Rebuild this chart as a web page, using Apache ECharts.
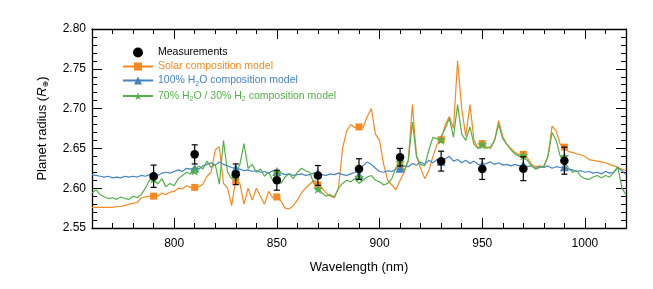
<!DOCTYPE html>
<html><head><meta charset="utf-8">
<script src="https://cdn.jsdelivr.net/npm/echarts@6/dist/echarts.min.js"></script>
<style>html,body{margin:0;padding:0;background:#fff}#c{width:653px;height:289px}</style>
</head><body><div id="c"></div>
<script>
// ---- data ----
const wlStart = 760, wlStep = 2;
const solarModel = [
2.576,2.576,2.576,2.576,2.576,2.576,2.577,2.577,2.578,2.580,
2.581,2.582,2.588,2.589,2.590,2.591,2.590,2.594,2.592,2.595,
2.596,2.600,2.599,2.603,2.601,2.600,2.602,2.605,2.615,2.620,
2.648,2.652,2.606,2.600,2.578,2.612,2.606,2.580,2.600,2.585,
2.600,2.590,2.580,2.596,2.588,2.590,2.584,2.575,2.574,2.578,
2.585,2.594,2.600,2.605,2.610,2.606,2.600,2.594,2.590,2.588,
2.600,2.650,2.672,2.680,2.676,2.678,2.676,2.690,2.700,2.668,
2.660,2.630,2.610,2.604,2.598,2.610,2.620,2.635,2.705,2.640,
2.625,2.612,2.622,2.640,2.655,2.660,2.680,2.690,2.675,2.760,
2.700,2.665,2.705,2.660,2.650,2.655,2.652,2.650,2.660,2.685,
2.665,2.655,2.650,2.645,2.642,2.641,2.638,2.630,2.627,2.628,
2.626,2.640,2.678,2.672,2.655,2.650,2.646,2.645,2.643,2.642,
2.640,2.636,2.635,2.634,2.633,2.632,2.630,2.628,2.626,2.624,
2.622];
const waterModel = [
2.617,2.616,2.615,2.614,2.615,2.613,2.614,2.613,2.615,2.614,
2.615,2.614,2.616,2.615,2.617,2.617,2.616,2.619,2.620,2.619,
2.621,2.623,2.621,2.625,2.624,2.626,2.624,2.628,2.630,2.632,
2.629,2.633,2.630,2.628,2.626,2.625,2.624,2.622,2.623,2.621,
2.622,2.620,2.621,2.619,2.622,2.620,2.619,2.617,2.618,2.616,
2.617,2.618,2.616,2.617,2.619,2.618,2.617,2.616,2.618,2.617,
2.619,2.617,2.616,2.618,2.620,2.622,2.628,2.633,2.630,2.625,
2.621,2.620,2.622,2.621,2.624,2.626,2.628,2.627,2.631,2.629,
2.633,2.630,2.635,2.632,2.636,2.633,2.637,2.640,2.634,2.636,
2.632,2.635,2.631,2.634,2.630,2.629,2.631,2.633,2.630,2.632,
2.629,2.630,2.628,2.630,2.628,2.629,2.627,2.628,2.625,2.627,
2.626,2.628,2.625,2.627,2.626,2.627,2.624,2.623,2.621,2.622,
2.620,2.621,2.619,2.620,2.618,2.621,2.619,2.620,2.626,2.622,
2.617];
const mixModel = [
2.594,2.598,2.592,2.589,2.587,2.588,2.586,2.589,2.587,2.586,
2.590,2.588,2.592,2.600,2.610,2.612,2.605,2.612,2.602,2.606,
2.603,2.612,2.616,2.620,2.618,2.622,2.628,2.624,2.634,2.626,
2.630,2.605,2.660,2.620,2.612,2.618,2.630,2.656,2.625,2.630,
2.620,2.624,2.615,2.620,2.610,2.612,2.606,2.614,2.618,2.612,
2.620,2.625,2.622,2.620,2.606,2.600,2.594,2.590,2.592,2.589,
2.600,2.606,2.610,2.608,2.612,2.606,2.610,2.614,2.616,2.610,
2.608,2.604,2.606,2.612,2.626,2.632,2.622,2.635,2.683,2.640,
2.630,2.628,2.648,2.664,2.662,2.665,2.675,2.688,2.664,2.705,
2.668,2.660,2.677,2.655,2.650,2.654,2.650,2.652,2.660,2.680,
2.662,2.655,2.648,2.643,2.640,2.638,2.635,2.628,2.624,2.626,
2.628,2.640,2.670,2.660,2.640,2.634,2.625,2.620,2.622,2.615,
2.612,2.611,2.614,2.616,2.613,2.616,2.614,2.620,2.627,2.600,
2.592];

const binWl       = [790, 810, 830, 850, 870, 890, 910, 930, 950, 970, 990];
const measured    = [2.615, 2.6425, 2.6175, 2.610, 2.616, 2.624, 2.639, 2.634, 2.624, 2.6245, 2.6346];
const measuredErr = [0.014, 0.012, 0.013, 0.0125, 0.0125, 0.013, 0.011, 0.0125, 0.013, 0.015, 0.017];
const solarBins   = [2.590, 2.601, 2.609, 2.589, 2.604, 2.677, 2.628, 2.661, 2.656, 2.6425, 2.6516];
const waterBins   = [2.617, 2.625, 2.625, 2.621, 2.618, 2.617, 2.625, 2.634, 2.629, 2.629, 2.627];
const mixBins     = [2.612, 2.622, 2.615, 2.620, 2.599, 2.614, 2.633, 2.661, 2.655, 2.641, 2.640];

const xMajorTicks = [800, 850, 900, 950, 1000];
const xMinorTicks = [770, 780, 790, 810, 820, 830, 840, 860, 870, 880, 890, 910, 920, 930, 940, 960, 970, 980, 990, 1010, 1020];

const names = {
  meas: 'Measurements',
  solar: 'Solar composition model',
  water: '100% H2O composition model',
  mix: '70% H2O / 30% H2 composition model'
};
const colors = { solar: '#f7891f', water: '#4583c2', mix: '#55b04a', meas: '#000000' };

// ---- build ----
const spec = arr => arr.map((v, i) => [wlStart + i * wlStep, v]);
const bins = arr => arr.map((v, i) => [binWl[i], v]);
const FONT = "'Liberation Sans', Arial, Helvetica, sans-serif";
const STAR = 'path://M0,-10L2.35,-3.24L9.51,-3.09L3.8,1.24L5.88,8.09L0,4L-5.88,8.09L-3.8,1.24L-9.51,-3.09L-2.35,-3.24Z';

const xBase = {
  type: 'value', min: 760, max: 1020,
  splitLine: { show: false },
  axisLine: { show: true, lineStyle: { color: '#000', width: 1.3 } }
};
const yBase = {
  type: 'value', min: 2.55, max: 2.80, interval: 0.05,
  splitLine: { show: false },
  axisLine: { show: true, lineStyle: { color: '#000', width: 1.3 } },
  axisTick: { show: true, inside: true, length: 10, lineStyle: { color: '#000', width: 1 } },
  minorTick: { show: true, splitNumber: 5, length: 5, lineStyle: { color: '#000', width: 1 } }
};

const chart = echarts.init(document.getElementById('c'), null, { renderer: 'canvas' });
chart.setOption({
  animation: false,
  backgroundColor: '#fff',
  textStyle: { fontFamily: FONT },
  grid: [
    { left: 92, right: 27, top: 29, bottom: 61 },
    { left: 92, right: 27, top: 29, bottom: 61 }
  ],
  xAxis: [
    Object.assign({}, xBase, {
      gridIndex: 0, position: 'bottom',
      axisTick: { show: true, inside: true, length: 5, customValues: xMinorTicks, lineStyle: { color: '#000', width: 1 } },
      axisLabel: { show: false },
      name: 'Wavelength (nm)', nameLocation: 'middle', nameGap: 33,
      nameTextStyle: { fontSize: 13, color: '#000', fontFamily: FONT }
    }),
    Object.assign({}, xBase, {
      gridIndex: 0, position: 'top',
      axisTick: { show: true, inside: true, length: 5, customValues: xMinorTicks, lineStyle: { color: '#000', width: 1 } },
      axisLabel: { show: false }
    }),
    Object.assign({}, xBase, {
      gridIndex: 1, position: 'bottom',
      axisLine: { show: false },
      axisTick: { show: true, inside: true, length: 10, customValues: xMajorTicks, lineStyle: { color: '#000', width: 1 } },
      axisLabel: { show: true, customValues: xMajorTicks, margin: 10, fontSize: 12, color: '#000', fontFamily: FONT,
                   formatter: v => String(Math.round(v)) }
    }),
    Object.assign({}, xBase, {
      gridIndex: 1, position: 'top',
      axisLine: { show: false },
      axisTick: { show: true, inside: true, length: 10, customValues: xMajorTicks, lineStyle: { color: '#000', width: 1 } },
      axisLabel: { show: false }
    })
  ],
  yAxis: [
    Object.assign({}, yBase, {
      gridIndex: 0, position: 'left',
      axisLabel: { show: true, margin: 6, fontSize: 12, color: '#000', fontFamily: FONT, formatter: v => v.toFixed(2) },
      name: '{a|Planet radius (}{i|R}{s|⊕}{a|)}', nameLocation: 'middle', nameGap: 42, nameRotate: 90,
      nameTextStyle: {
        fontFamily: FONT, color: '#000',
        rich: {
          a: { fontSize: 13, fontFamily: FONT, color: '#000', lineHeight: 16 },
          i: { fontSize: 13, fontFamily: FONT, fontStyle: 'italic', color: '#000', lineHeight: 16 },
          s: { fontSize: 8, fontFamily: "'DejaVu Sans', sans-serif", color: '#000', lineHeight: 16, verticalAlign: 'bottom' }
        }
      }
    }),
    Object.assign({}, yBase, {
      gridIndex: 0, position: 'right',
      axisLabel: { show: false }
    }),
    { type: 'value', gridIndex: 1, min: 2.55, max: 2.80, show: false }
  ],
  legend: {
    orient: 'vertical', left: 117, top: 42,
    itemWidth: 30, itemHeight: 10, itemGap: 3,
    selectedMode: false,
    data: [names.meas, names.solar, names.water, names.mix],
    formatter: function (n) {
      if (n === names.meas) return '{k|Measurements}';
      if (n === names.solar) return '{o|Solar composition model}';
      if (n === names.water) return '{b|100% H}{bs|2}{b|O composition model}';
      return '{g|70% H}{gs|2}{g|O / 30% H}{gs|2}{g| composition model}';
    },
    textStyle: {
      fontFamily: FONT, fontSize: 10.5,
      rich: {
        k: { color: colors.meas, fontSize: 10.5, fontFamily: FONT, lineHeight: 13 },
        o: { color: colors.solar, fontSize: 10.5, fontFamily: FONT, lineHeight: 13 },
        b: { color: colors.water, fontSize: 10.5, fontFamily: FONT, lineHeight: 13 },
        bs: { color: colors.water, fontSize: 7, fontFamily: FONT, lineHeight: 14, verticalAlign: 'bottom' },
        g: { color: colors.mix, fontSize: 10.5, fontFamily: FONT, lineHeight: 13 },
        gs: { color: colors.mix, fontSize: 7, fontFamily: FONT, lineHeight: 14, verticalAlign: 'bottom' }
      }
    }
  },
  series: [
    { name: names.solar, type: 'line', xAxisIndex: 0, yAxisIndex: 0, data: spec(solarModel),
      symbol: 'rect', symbolSize: 8, showSymbol: false, color: colors.solar,
      lineStyle: { color: colors.solar, width: 1.2 }, z: 2 },
    { name: names.water, type: 'line', xAxisIndex: 0, yAxisIndex: 0, data: spec(waterModel),
      symbol: 'triangle', symbolSize: 9, showSymbol: false, color: colors.water,
      lineStyle: { color: colors.water, width: 1.2 }, z: 3 },
    { name: names.mix, type: 'line', xAxisIndex: 0, yAxisIndex: 0, data: spec(mixModel),
      symbol: STAR, symbolSize: 10, showSymbol: false, color: colors.mix,
      lineStyle: { color: colors.mix, width: 1.2 }, z: 4 },
    { name: 'solar bins', type: 'scatter', data: bins(solarBins), symbol: 'rect', symbolSize: 7,
      itemStyle: { color: colors.solar, opacity: 1 }, z: 5 },
    { name: 'water bins', type: 'scatter', data: bins(waterBins), symbol: 'triangle', symbolSize: 9,
      itemStyle: { color: colors.water, opacity: 1 }, z: 5 },
    { name: 'mix bins', type: 'scatter', data: bins(mixBins), symbol: STAR,
      symbolSize: 10, itemStyle: { color: colors.mix, opacity: 1 }, z: 5 },
    { name: 'errors', type: 'custom', data: binWl.map((w, i) => [w, measured[i], measuredErr[i]]),
      encode: { x: 0, y: 1 }, z: 6,
      renderItem: function (params, api) {
        const x = api.value(0), v = api.value(1), e = api.value(2);
        const t = api.coord([x, v + e]), b = api.coord([x, v - e]);
        const hw = 3, st = { stroke: '#000', lineWidth: 1.2 };
        return { type: 'group', children: [
          { type: 'line', shape: { x1: t[0], y1: t[1], x2: b[0], y2: b[1] }, style: st },
          { type: 'line', shape: { x1: t[0] - hw, y1: t[1], x2: t[0] + hw, y2: t[1] }, style: st },
          { type: 'line', shape: { x1: b[0] - hw, y1: b[1], x2: b[0] + hw, y2: b[1] }, style: st }
        ] };
      } },
    { name: names.meas, type: 'scatter', data: bins(measured), symbol: 'circle', symbolSize: 8.5,
      itemStyle: { color: '#000', opacity: 1 }, z: 7 }
  ]
});
</script></body></html>
